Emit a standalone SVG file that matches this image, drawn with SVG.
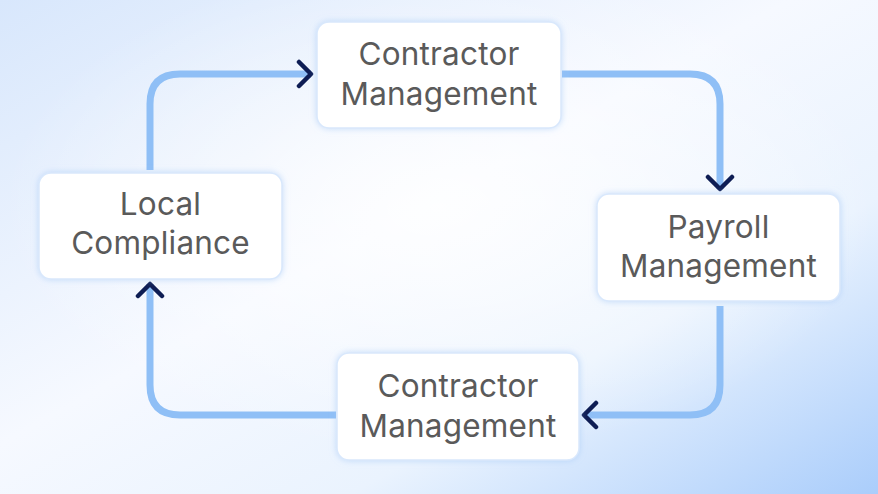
<svg xmlns="http://www.w3.org/2000/svg" width="878" height="494" viewBox="0 0 878 494">
  <defs>
    <linearGradient id="bg" x1="0" y1="0" x2="1" y2="1">
      <stop offset="0" stop-color="#d8e7fc"/>
      <stop offset="0.45" stop-color="#f6f9ff"/>
      <stop offset="0.7" stop-color="#eaf3fe"/>
      <stop offset="1" stop-color="#aacdfb"/>
    </linearGradient>
    <radialGradient id="glow" cx="0.5" cy="0.42" r="0.5">
      <stop offset="0" stop-color="#ffffff" stop-opacity="0.85"/>
      <stop offset="1" stop-color="#ffffff" stop-opacity="0"/>
    </radialGradient>
    <filter id="sh" x="-20%" y="-30%" width="140%" height="160%">
      <feDropShadow dx="0" dy="0" stdDeviation="3" flood-color="#9cc4f5" flood-opacity="0.55"/>
    </filter>
    <marker id="chev" viewBox="0 0 20 30" markerWidth="20" markerHeight="30" refX="16" refY="15" orient="auto" markerUnits="userSpaceOnUse">
      <path d="M4 3 L16 15 L4 27" fill="none" stroke="#0e1d54" stroke-width="4.5" stroke-linecap="round" stroke-linejoin="round"/>
    </marker>
  </defs>
  <style>
    .box { fill: #ffffff; stroke: #d9e8fc; stroke-width: 1.5; filter: url(#sh); }
    .lbl { font-family: Inter, "Noto Sans", "Liberation Sans", sans-serif; font-size: 31.5px; letter-spacing: 0.2px; fill: #5a5a5a; text-anchor: middle; }
    .edge { fill: none; stroke: #8fbff6; stroke-width: 7; marker-end: url(#chev); }
  </style>
  <rect width="878" height="494" fill="url(#bg)"/>
  <rect width="878" height="494" fill="url(#glow)"/>

  <g id="connectors">
    <path class="edge" d="M150 170 V104 Q150 74 180 74 H311"/>
    <path class="edge" d="M562 74 H690 Q720 74 720 104 V189"/>
    <path class="edge" d="M720 306 V385 Q720 415 690 415 H584"/>
    <path class="edge" d="M336 415 H180 Q150 415 150 385 V284"/>
  </g>

  <g id="node-top">
    <rect class="box" x="317" y="22" width="244" height="106" rx="12"/>
    <text class="lbl" x="439" y="65">Contractor</text>
    <text class="lbl" x="439" y="105">Management</text>
  </g>
  <g id="node-right">
    <rect class="box" x="597" y="194" width="243" height="107" rx="12"/>
    <text class="lbl" x="718.5" y="238">Payroll</text>
    <text class="lbl" x="718.5" y="277">Management</text>
  </g>
  <g id="node-bottom">
    <rect class="box" x="337" y="353" width="242" height="107" rx="12"/>
    <text class="lbl" x="458" y="397">Contractor</text>
    <text class="lbl" x="458" y="437">Management</text>
  </g>
  <g id="node-left">
    <rect class="box" x="39" y="173" width="243" height="106" rx="12"/>
    <text class="lbl" x="160.5" y="215">Local</text>
    <text class="lbl" x="160.5" y="254">Compliance</text>
  </g>
</svg>
